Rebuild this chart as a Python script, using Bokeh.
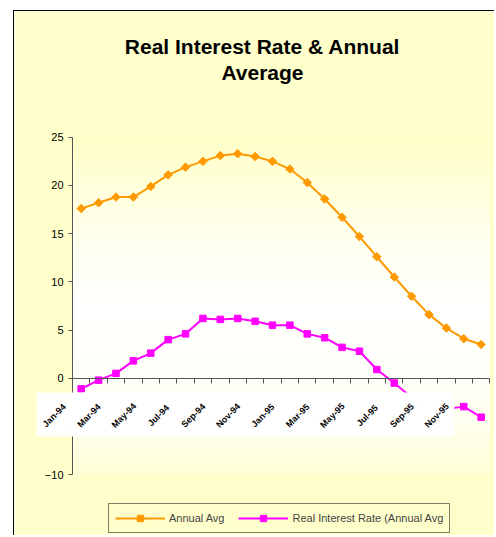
import numpy as np
from bokeh.plotting import figure
from bokeh.models import (Range1d, LinearAxis, FixedTicker, Legend, LegendItem,
                          ColumnDataSource, CustomJSTickFormatter)
from bokeh.core.properties import value
from bokeh.embed import file_html
from bokeh.resources import INLINE

# ---------------- data ----------------
categories = ["Jan-94", "Feb-94", "Mar-94", "Apr-94", "May-94", "Jun-94",
              "Jul-94", "Aug-94", "Sep-94", "Oct-94", "Nov-94", "Dec-94",
              "Jan-95", "Feb-95", "Mar-95", "Apr-95", "May-95", "Jun-95",
              "Jul-95", "Aug-95", "Sep-95", "Oct-95", "Nov-95", "Dec-95"]
tick_labels = categories[::2]
annual_avg = [17.6, 18.2, 18.8, 18.8, 19.9, 21.1, 21.9, 22.5, 23.1, 23.3, 23.0, 22.5,
              21.7, 20.3, 18.6, 16.7, 14.7, 12.6, 10.5, 8.5, 6.6, 5.2, 4.1, 3.5]
real_rate = [-1.1, -0.2, 0.5, 1.8, 2.6, 4.0, 4.6, 6.2, 6.1, 6.2, 5.9, 5.5,
             5.5, 4.6, 4.2, 3.2, 2.8, 0.9, -0.5, -2.0, -2.9, -3.2, -2.95, -4.05]
y_ticks = [-10, -5, 0, 5, 10, 15, 20, 25]
title_lines = ["Real Interest Rate & Annual", "Average"]
series_names = ["Annual Avg", "Real Interest Rate (Annual Avg"]

# ---------------- geometry (page pixels) ----------------
FIG_LEFT, FIG_TOP = 14, 11
W, H = 481, 525
CAT0_X, CAT_W = 80.7, 17.39
ZERO_Y, UNIT_H = 377.7, 9.637


def dx(px):
    return (px - CAT0_X) / CAT_W


def dy(py):
    return (ZERO_Y - py) / UNIT_H


OUTER = "#FFFFCC"
ORANGE = "#FF9900"
MAGENTA = "#FF00FF"
AXIS = "#555555"
FONT = "Liberation Sans"

n = len(categories)
p = figure(width=W, height=H,
           x_range=Range1d(dx(FIG_LEFT), dx(FIG_LEFT + W)),
           y_range=Range1d(dy(FIG_TOP + H), dy(FIG_TOP)),
           x_axis_location=None, y_axis_location=None,
           min_border=0, toolbar_location=None, output_backend="svg",
           border_fill_color=OUTER, background_fill_color=OUTER,
           outline_line_color=None)
p.grid.visible = False
p.styles = {"margin-left": "13px", "margin-top": "10px",
            "border-left": "1px solid #000000", "border-top": "1px solid #000000"}

# plot-area gradient
ymin, ymax = min(y_ticks), max(y_ticks)
nrows = 200
vals = np.linspace(ymin, ymax, nrows)
blue = np.interp(vals, [-10, -5, 0, 8, 15, 25], [215, 238, 250, 254, 238, 200])
img = np.zeros((nrows, 1), dtype=np.uint32)
view = img.view(dtype=np.uint8).reshape((nrows, 1, 4))
view[:, 0, 0] = 255
view[:, 0, 1] = 255
view[:, 0, 2] = blue.astype(np.uint8)
view[:, 0, 3] = 255
p.image_rgba(image=[img], x=-0.5, y=ymin, dw=n, dh=ymax - ymin)

# axes
yaxis = LinearAxis(fixed_location=-0.5, ticker=FixedTicker(ticks=y_ticks),
                   bounds=(ymin, ymax), major_tick_out=4, major_tick_in=0,
                   minor_tick_out=0, minor_tick_in=0,
                   axis_line_color=AXIS, major_tick_line_color=AXIS,
                   major_label_text_font=FONT, major_label_text_font_size="11px",
                   major_label_text_color="#000000", major_label_standoff=5)
p.add_layout(yaxis, "left")

bounds = list(np.arange(n + 1) - 0.5)
xaxis = LinearAxis(fixed_location=0, ticker=FixedTicker(ticks=bounds),
                   bounds=(-0.5, n - 0.5), major_tick_out=5, major_tick_in=0,
                   minor_tick_out=0, minor_tick_in=0,
                   axis_line_color=AXIS, major_tick_line_color=AXIS,
                   formatter=CustomJSTickFormatter(code="return ''"),
                   major_label_standoff=0)
p.add_layout(xaxis, "below")

# series
src = ColumnDataSource(dict(x=np.arange(n), annual=annual_avg, real=real_rate))
l1 = p.line("x", "annual", source=src, line_color=ORANGE, line_width=2)
s1 = p.scatter("x", "annual", source=src, marker="square", angle=np.pi / 4, size=6,
               fill_color=ORANGE, line_color=ORANGE, line_width=1)
l2 = p.line("x", "real", source=src, line_color=MAGENTA, line_width=2)
s2 = p.scatter("x", "real", source=src, marker="square", size=6.5,
               fill_color=MAGENTA, line_color=MAGENTA, line_width=1)

# category label strip (white boxes) + rotated labels
lab_src = ColumnDataSource(dict(x=np.arange(0, n, 2) - 1.55, text=tick_labels))
p.rect(x="x", y=dy(414), width=2.02, height=44 / UNIT_H, source=lab_src,
       fill_color="white", line_color=None, level="overlay")
p.text(x="x", y=dy(415), text="text", source=lab_src, angle=np.pi / 4,
       text_align="center", text_baseline="middle", text_font=value(FONT),
       text_font_size="9px", text_font_style="bold", text_color="#000000",
       level="overlay")

# title
p.text(x=[dx(262)], y=[dy(45.5)], text=[title_lines[0]], text_align="center",
       text_baseline="alphabetic", text_font=value(FONT), text_font_size="21px",
       text_font_style="bold", text_color="#000000")
p.text(x=[dx(262)], y=[dy(71.7)], text=[title_lines[1]], text_align="center",
       text_baseline="alphabetic", text_font=value(FONT), text_font_size="21px",
       text_font_style="bold", text_color="#000000")

legend = Legend(items=[LegendItem(label=series_names[0], renderers=[l1, s1]),
                       LegendItem(label=series_names[1], renderers=[l2, s2])],
                orientation="horizontal", location=(108 - FIG_LEFT, 3),
                border_line_color="#000000", border_line_width=1,
                background_fill_color=OUTER, background_fill_alpha=1,
                label_text_font=FONT, label_text_font_size="11px",
                glyph_width=50, glyph_height=16, label_height=16,
                label_standoff=4, spacing=14, padding=6, margin=0)
p.add_layout(legend)

open("out.html", "w").write(file_html(p, INLINE))
